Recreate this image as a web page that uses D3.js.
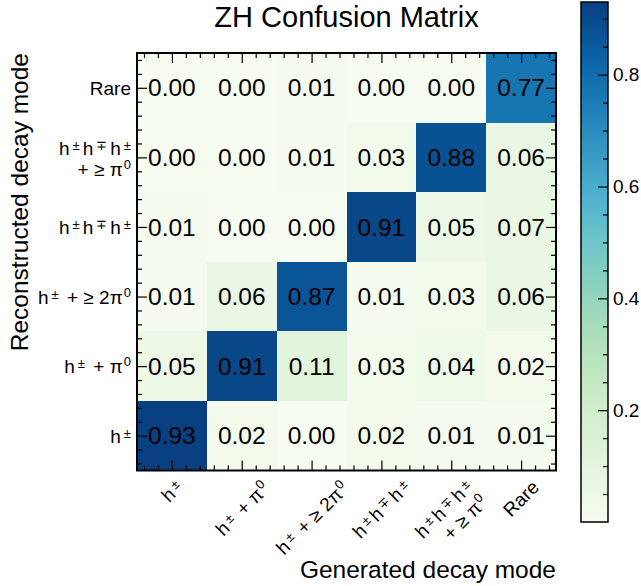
<!DOCTYPE html>
<html>
<head>
<meta charset="utf-8">
<script src="https://cdn.jsdelivr.net/npm/d3@7"></script>
<style>
  body { margin: 0; background: #fff; }
  text { font-family: "Liberation Sans", Arial, sans-serif; fill: #000; }
</style>
</head>
<body>
<svg id="chart" width="641" height="586"></svg>
<script>
// decay mode labels, "^x" marks a superscript character, "\n" a new line
const modes = ["h^±", "h^± + π^0", "h^± + ≥ 2π^0", "h^±h^∓h^±", "h^±h^∓h^±\n+ ≥ π^0", "Rare"];

// rows = reconstructed mode (0 = h± at the bottom), columns = generated mode
const matrix = [
  [0.93, 0.02, 0.00, 0.02, 0.01, 0.01],
  [0.05, 0.91, 0.11, 0.03, 0.04, 0.02],
  [0.01, 0.06, 0.87, 0.01, 0.03, 0.06],
  [0.01, 0.00, 0.00, 0.91, 0.05, 0.07],
  [0.00, 0.00, 0.01, 0.03, 0.88, 0.06],
  [0.00, 0.00, 0.01, 0.00, 0.00, 0.77]
];

const cbarTicks = [0.2, 0.4, 0.6, 0.8];
const vmax = 0.93;

const svg = d3.select("#chart");
const pL = 137, pR = 556, pT = 53, pB = 470.5;

const x = d3.scaleLinear().domain([-0.5, 5.5]).range([pL, pR]);
const y = d3.scaleLinear().domain([-0.5, 5.5]).range([pB, pT]);
const color = v => d3.interpolateGnBu(Math.max(0, Math.min(1, v / vmax)));

const cells = [];
matrix.forEach((row, r) => row.forEach((v, c) => cells.push({ r, c, v })));

// cells
svg.append("g").selectAll("rect")
  .data(cells)
  .enter().append("rect")
  .attr("x", d => x(d.c - 0.5))
  .attr("y", d => y(d.r + 0.5))
  .attr("width", x(1) - x(0))
  .attr("height", y(0) - y(1))
  .attr("fill", d => color(d.v))
  .attr("shape-rendering", "crispEdges");

svg.append("g").selectAll("text")
  .data(cells)
  .enter().append("text")
  .attr("x", d => x(d.c))
  .attr("y", d => y(d.r))
  .attr("dy", "0.35em")
  .attr("text-anchor", "middle")
  .attr("font-size", "24.5px")
  .text(d => d.v.toFixed(2));

// ticks on all four sides, pointing inward
const major = d3.range(6);
const minor = [];
major.forEach(m => [-0.4, -0.2, 0.2, 0.4].forEach(o => minor.push(m + o)));

function ticks(axisFn, scale, vals, size, tr) {
  const g = svg.append("g").attr("transform", tr)
    .call(axisFn(scale).tickValues(vals).tickSize(-size).tickFormat(""));
  g.select(".domain").remove();
  g.selectAll("line").attr("stroke", "#000").attr("stroke-width", 1.2);
}
ticks(d3.axisBottom, x, major, 10, `translate(0,${pB})`);
ticks(d3.axisBottom, x, minor, 5, `translate(0,${pB})`);
ticks(d3.axisTop, x, major, 10, `translate(0,${pT})`);
ticks(d3.axisTop, x, minor, 5, `translate(0,${pT})`);
ticks(d3.axisLeft, y, major, 10, `translate(${pL},0)`);
ticks(d3.axisLeft, y, minor, 5, `translate(${pL},0)`);
ticks(d3.axisRight, y, major, 10, `translate(${pR},0)`);
ticks(d3.axisRight, y, minor, 5, `translate(${pR},0)`);

svg.append("rect")
  .attr("x", pL).attr("y", pT)
  .attr("width", pR - pL).attr("height", pB - pT)
  .attr("fill", "none").attr("stroke", "#000").attr("stroke-width", 2);

// write a label with superscripts into a text element
function writeLabel(text, label, lineH) {
  let shift = 0;
  label.split("\n").forEach((line, li) => {
    const parts = line.split(/\^(.)/);
    parts.forEach((p, i) => {
      if (p === "") return;
      const sup = i % 2 === 1;
      const want = sup ? (p === "0" ? -7 : -5) : 0;
      let dy = want - shift;
      const ts = text.append("tspan");
      if (li > 0 && i === 0) { ts.attr("x", 0); dy += lineH; }
      if (dy) ts.attr("dy", dy);
      if (sup) ts.attr("font-size", "13px").attr("dx", p === "0" ? 1 : 3);
      else if (i > 0) ts.attr("dx", 3);
      ts.text(p);
      shift = want;
    });
  });
}

// y tick labels
modes.forEach((m, i) => {
  const lines = m.split("\n").length;
  const t = svg.append("text")
    .attr("font-size", "19px")
    .attr("text-anchor", "end")
    .attr("transform", `translate(131,${y(i) + (lines > 1 ? -2 : 7)})`)
    .attr("x", 0);
  writeLabel(t, m, 21);
});

// x tick labels, rotated 45 degrees, centred under the tick
modes.forEach((m, i) => {
  const g = svg.append("g").attr("transform", `translate(${x(i)},${pB + 6})`);
  const w = g.append("g");
  const t = w.append("text")
    .attr("font-size", "19px")
    .attr("text-anchor", "end")
    .attr("transform", "rotate(-45)")
    .attr("x", 0);
  writeLabel(t, m, 21);
  const bb = w.node().getBBox();
  w.attr("transform", `translate(${-bb.x - bb.width / 2},${-bb.y})`);
});

// titles
svg.append("text")
  .attr("x", (pL + pR) / 2).attr("y", 27)
  .attr("text-anchor", "middle")
  .attr("font-size", "29px")
  .text("ZH Confusion Matrix");

svg.append("text")
  .attr("x", pR).attr("y", 578)
  .attr("text-anchor", "end")
  .attr("font-size", "24.5px")
  .text("Generated decay mode");

svg.append("text")
  .attr("transform", `translate(28,${pT}) rotate(-90)`)
  .attr("text-anchor", "end")
  .attr("font-size", "24.5px")
  .text("Reconstructed decay mode");

// colorbar
const cbX = 581, cbW = 27;
const cy = d3.scaleLinear().domain([0, vmax]).range([522, 2]);

const grad = svg.append("defs").append("linearGradient")
  .attr("id", "cbar").attr("x1", 0).attr("y1", 1).attr("x2", 0).attr("y2", 0);
d3.range(0, 1.0001, 0.05).forEach(t => {
  grad.append("stop").attr("offset", t).attr("stop-color", d3.interpolateGnBu(t));
});

svg.append("rect")
  .attr("x", cbX).attr("y", cy(vmax))
  .attr("width", cbW).attr("height", cy(0) - cy(vmax))
  .attr("fill", "url(#cbar)");

const cbMinor = d3.range(0.05, 0.93, 0.05).filter(v => !cbarTicks.some(t => Math.abs(t - v) < 1e-6));

const cbMinorG = svg.append("g").attr("transform", `translate(${cbX + cbW},0)`)
  .call(d3.axisRight(cy).tickValues(cbMinor).tickSize(-5).tickFormat(""));
cbMinorG.select(".domain").remove();

const cbAxis = svg.append("g").attr("transform", `translate(${cbX + cbW},0)`)
  .call(d3.axisRight(cy).tickValues(cbarTicks).tickSizeInner(-10).tickSizeOuter(0)
    .tickPadding(5).tickFormat(d3.format(".1f")));
cbAxis.select(".domain").remove();
cbAxis.selectAll("text").attr("font-size", "19px").attr("font-family", "Liberation Sans, Arial, sans-serif");
svg.selectAll("g line").attr("stroke", "#000").attr("stroke-width", 1.2);

svg.append("rect")
  .attr("x", cbX).attr("y", cy(vmax))
  .attr("width", cbW).attr("height", cy(0) - cy(vmax))
  .attr("fill", "none").attr("stroke", "#000").attr("stroke-width", 1.5);
</script>
</body>
</html>
